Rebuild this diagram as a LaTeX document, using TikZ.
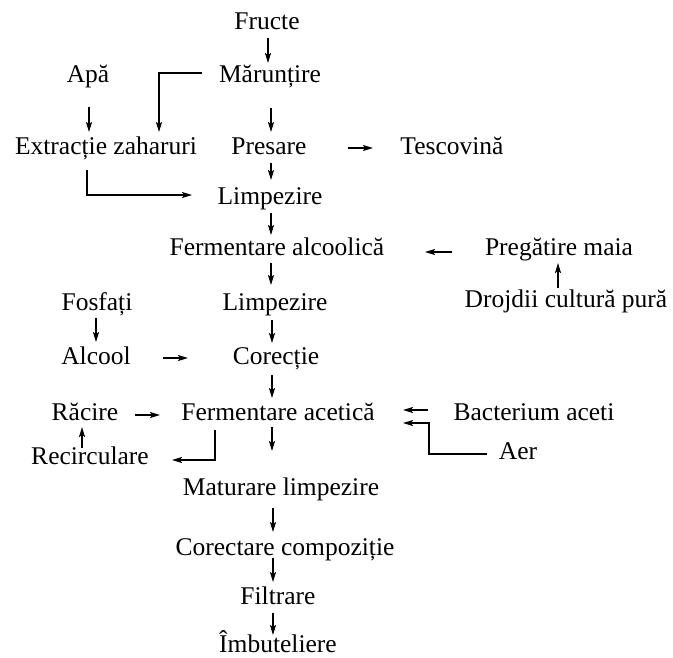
\documentclass[tikz,border=0pt]{standalone}
\usepackage{fontspec}
\setmainfont{Liberation Serif}
\usetikzlibrary{calc,arrows.meta}
\begin{document}
\begin{tikzpicture}[x=1pt,y=-1pt,
  lbl/.style={anchor=base,inner sep=0pt,font=\fontsize{25.5}{30}\selectfont},
  arr/.style={-{Stealth[length=10pt,width=6pt,inset=2pt]},line width=1.5pt}]
\useasboundingbox (0,0) rectangle (673,657);

% process steps (placed by baseline)
\node[lbl] (fructe) at (267,29)  {Fructe};
\node[lbl] (marunt) at (270,82)  {Mărunțire};
\node[lbl] (apa)    at (88,82)   {Apă};
\node[lbl] (extr)   at (106,154) {Extracție zaharuri};
\node[lbl] (pres)   at (269,154) {Presare};
\node[lbl] (tesc)   at (452,154) {Tescovină};
\node[lbl] (limp)   at (270,204) {Limpezire};
\node[lbl] (falc)   at (277,255) {Fermentare alcoolică};
\node[lbl] (preg)   at (559,255) {Pregătire maia};
\node[lbl] (droj)   at (566,307) {Drojdii cultură pură};
\node[lbl] (fosf)   at (97,310)  {Fosfați};
\node[lbl] (limpb)  at (275,310) {Limpezire};
\node[lbl] (alc)    at (96,364)  {Alcool};
\node[lbl] (cor)    at (276,364) {Corecție};
\node[lbl] (rac)    at (85,420)  {Răcire};
\node[lbl] (fac)    at (278,420) {Fermentare acetică};
\node[lbl] (bac)    at (534,420) {Bacterium aceti};
\node[lbl] (rec)    at (90,464)  {Recirculare};
\node[lbl] (aer)    at (518,459) {Aer};
\node[lbl] (mat)    at (281,495) {Maturare limpezire};
\node[lbl] (corc)   at (285,555) {Corectare compoziție};
\node[lbl] (filt)   at (278,604) {Filtrare};
\node[lbl] (imb)    at (278,652) {Îmbuteliere};

% flow arrows
\draw[arr] ($(fructe.base)+(1,9)$) -- ($(marunt.base)+(-2,-19)$);
\draw[arr] ($(marunt.base)+(1,26)$) -- ($(pres.base)+(2,-22)$);
\draw[arr] ($(marunt.base)+(-68,-9)$) -| ($(extr.base)+(53,-22)$);
\draw[arr] ($(apa.base)+(1,25)$) -- ($(extr.base)+(-17,-22)$);
\draw[arr] ($(pres.base)+(79,-6)$) -- ($(tesc.base)+(-79,-6)$);
\draw[arr] ($(pres.base)+(2,9)$) -- ($(limp.base)+(1,-24)$);
\draw[arr] ($(extr.base)+(-19,16)$) |- ($(limp.base)+(-78,-9)$);
\draw[arr] ($(limp.base)+(1,9)$) -- ($(falc.base)+(-6,-20)$);
\draw[arr] ($(preg.base)+(-107,-3)$) -- ($(falc.base)+(148,-3)$);
\draw[arr] ($(droj.base)+(-8,-19)$) -- ($(preg.base)+(-1,8)$);
\draw[arr] ($(falc.base)+(-6,8)$) -- ($(limpb.base)+(-4,-25)$);
\draw[arr] ($(fosf.base)+(-1,8)$) -- ($(alc.base)+(0,-22)$);
\draw[arr] ($(limpb.base)+(-3,10)$) -- ($(cor.base)+(-4,-21)$);
\draw[arr] ($(alc.base)+(67,-6)$) -- ($(cor.base)+(-88,-6)$);
\draw[arr] ($(cor.base)+(-4,11)$) -- ($(fac.base)+(-6,-22)$);
\draw[arr] ($(rac.base)+(50,-5)$) -- ($(fac.base)+(-118,-5)$);
\draw[arr] ($(rec.base)+(-8,-16)$) -- ($(rac.base)+(-3,7)$);
\draw[arr] ($(fac.base)+(-63,10)$) |- ($(rec.base)+(82,-4)$);
\draw[arr] ($(bac.base)+(-106,-10)$) -- ($(fac.base)+(125,-10)$);
\draw[arr] ($(aer.base)+(-31,-5)$) -- ++(-58,0) |- ($(fac.base)+(125,3)$);
\draw[arr] ($(fac.base)+(-6,7)$) -- ($(mat.base)+(-9,-44)$);
\draw[arr] ($(mat.base)+(-8,13)$) -- ($(corc.base)+(-12,-23)$);
\draw[arr] ($(corc.base)+(-12,3)$) -- ($(filt.base)+(-5,-22)$);
\draw[arr] ($(filt.base)+(-5,9)$) -- ($(imb.base)+(-5,-17)$);
\end{tikzpicture}
\end{document}
